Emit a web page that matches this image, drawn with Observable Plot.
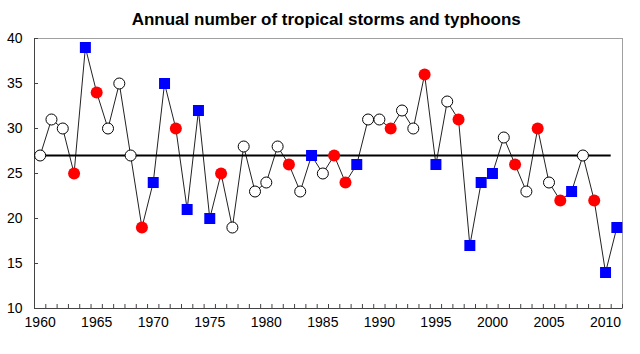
<!DOCTYPE html>
<html><head><meta charset="utf-8">
<script src="https://cdn.jsdelivr.net/npm/d3@7"></script>
<script src="https://cdn.jsdelivr.net/npm/@observablehq/plot@0.6"></script>
<style>body{margin:0;background:#fff;font-family:"Liberation Sans",Arial,sans-serif}</style>
</head><body><div id="chart"></div>
<script>
const title = "Annual number of tropical storms and typhoons";
const years = d3.range(1960, 2012);
const counts = [27,31,30,25,39,34,30,35,27,19,24,35,30,21,32,20,25,19,28,23,24,28,26,23,27,25,27,24,26,31,31,30,32,30,36,26,33,31,17,24,25,29,26,23,30,24,22,23,27,22,14,19];
// n = neutral (open circle), r = red circle, b = blue square
const kinds = ["n","n","n","r","b","r","n","n","n","r","b","b","r","b","b","b","r","n","n","n","n","n","r","n","b","n","r","r","b","n","n","r","n","n","r","b","n","r","b","b","b","n","r","n","r","n","r","b","n","r","b","b"];
const meanValue = 27;
const yTicks = [10,15,20,25,30,35,40];
const xLabels = [1960,1965,1970,1975,1980,1985,1990,1995,2000,2005,2010];

const data = years.map((y,i)=>({year:y, value:counts[i], kind:kinds[i]}));
const boundaries = d3.range(1959.5, 2012, 1);

const chart = Plot.plot({
  width: 640, height: 354,
  marginTop: 38, marginBottom: 46, marginLeft: 34, marginRight: 18,
  style: {fontFamily: "Liberation Sans, Arial, sans-serif", fontSize: "14px", color: "#000", background: "#fff"},
  x: {domain: [1959.5, 2011.5]},
  y: {domain: [10, 40]},
  marks: [
    Plot.frame({stroke: "#a0a0a0"}),
    Plot.ruleX([1959.5], {stroke: "#444"}),
    Plot.ruleY([10], {stroke: "#444"}),
    Plot.axisX({ticks: boundaries, tickSize: 4, dy: -4, tickFormat: () => "", label: null, stroke: "#444"}),
    Plot.axisX({ticks: xLabels, tickSize: 0, tickPadding: 9, tickFormat: d => String(d), label: null, fontSize: 14}),
    Plot.axisY({ticks: yTicks, tickSize: 4, dx: 4, tickFormat: () => "", label: null, stroke: "#444"}),
    Plot.axisY({ticks: yTicks, tickSize: 0, tickPadding: 12, tickFormat: d => String(d), label: null, fontSize: 14}),
    Plot.line(data, {x: "year", y: "value", stroke: "#222", strokeWidth: 1}),
    Plot.ruleY([meanValue], {x1: 1959.5, x2: 2010.5, stroke: "#000", strokeWidth: 2}),
    Plot.dot(data.filter(d=>d.kind==="n"), {x: "year", y: "value", r: 5.5, fill: "#fff", stroke: "#000", strokeWidth: 1}),
    Plot.dot(data.filter(d=>d.kind==="r"), {x: "year", y: "value", r: 6, fill: "#ff0000", stroke: "none"}),
    Plot.dot(data.filter(d=>d.kind==="b"), {x: "year", y: "value", r: 6.2, symbol: "square", fill: "#0000ff", stroke: "none"}),
    Plot.text([title], {frameAnchor: "top", dy: -26, x: 1985.3, fontSize: 17, fontWeight: "bold", fill: "#000"})
  ]
});
document.getElementById("chart").appendChild(chart);
</script></body></html>
